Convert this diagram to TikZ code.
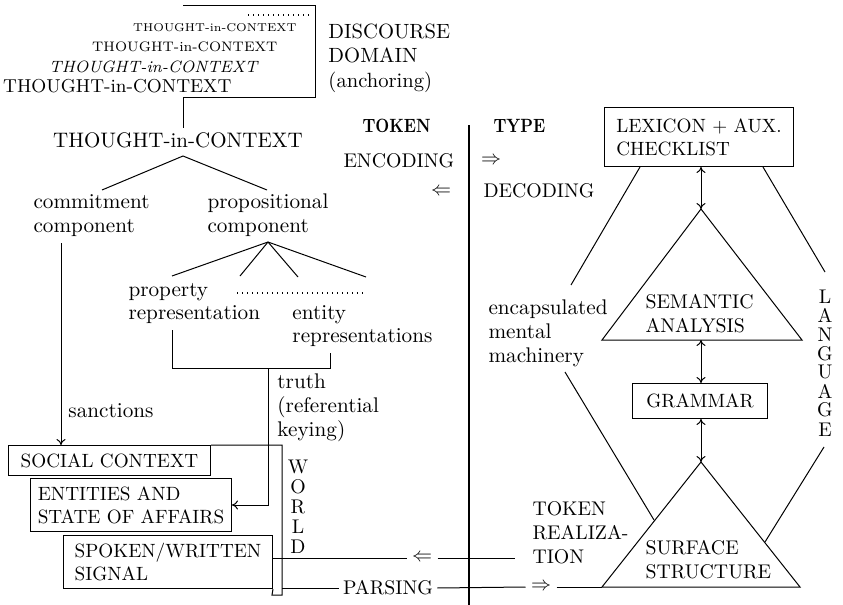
\documentclass[tikz,border=0pt]{standalone}
\usepackage{graphicx}
\usetikzlibrary{arrows.meta}

\tikzset{
  lbl/.style={align=left,font=\fontsize{10.6}{11.8}\selectfont},
  captxt/.style={align=left,font=\fontsize{9.9}{12}\selectfont},
  head/.style={font=\fontsize{9.6}{11}\selectfont\bfseries},
  box/.style={draw,align=left,font=\fontsize{9.6}{11.6}\selectfont,anchor=north west,inner sep=0pt},
  sym/.style={font=\fontsize{10}{12}\selectfont,inner xsep=2.5pt},
  tip/.style={-{To[length=3pt,width=4.5pt]}},
  dtip/.style={{To[length=3pt,width=4.5pt]}-{To[length=3pt,width=4.5pt]}},
}

\begin{document}
\begin{tikzpicture}[x=0.5pt,y=-0.5pt,line width=0.5pt,every node/.append style={inner sep=0pt}]
\useasboundingbox (0,0) rectangle (843,605);

% discourse domain
\node[font=\fontsize{5.7}{6}\selectfont,anchor=base east] (tic1) at (297,32) {THOUGHT-in-CONTEXT};
\node[font=\fontsize{6.9}{7}\selectfont,anchor=base east] (tic2) at (278,52) {THOUGHT-in-CONTEXT};
\node[font=\fontsize{8.2}{9}\selectfont\itshape,anchor=base east] (tic3) at (258,72) {THOUGHT-in-CONTEXT};
\node[font=\fontsize{9.35}{10}\selectfont,anchor=base east] (tic4) at (232,92) {THOUGHT-in-CONTEXT};
\draw[line width=0.9pt,dash pattern=on 0.7pt off 1.8pt] (248,15) -- (311,15);
\node[align=left,font=\fontsize{10.3}{12.2}\selectfont,anchor=base west] (domain) at (328,87) {DISCOURSE\\DOMAIN\\(anchoring)};

\coordinate (dTL) at (183,5);
\coordinate (dTR) at (315,5);
\coordinate (dBR) at (315,97);
\coordinate (dBL) at (183,97);
\coordinate (dEnd) at (183,128);
\draw (dTL) -- (dTR) -- (dBR) -- (dBL) -- (dEnd);

% thought tree
\node[font=\fontsize{10.5}{12}\selectfont,anchor=base] (thought) at (178,148) {THOUGHT-in-CONTEXT};
\node[lbl,anchor=base west] (commit) at (33,232) {commitment\\component};
\node[lbl,anchor=base west] (prop) at (207,232) {propositional\\component};
\coordinate (tA) at (183,156);
\coordinate (cTop) at (102,190);
\coordinate (pTop) at (267,190);
\draw (cTop) -- (tA) -- (pTop);

\node[lbl,anchor=base west] (property) at (128,320) {property\\representation};
\node[lbl,anchor=base west] (entity) at (292,343) {entity\\representations};
\coordinate (pA) at (268,242);
\coordinate (f1) at (172,276);
\coordinate (f2) at (240,276);
\coordinate (f3) at (298,277);
\coordinate (f4) at (366,277);
\foreach \f in {f1,f2,f3,f4}
  \draw (pA) -- (\f);
\draw[line width=0.9pt,dash pattern=on 0.7pt off 1.8pt] (237,293) -- (366,293);

% truth / sanctions
\coordinate (bL) at (172,330);
\coordinate (bR) at (330,353);
\coordinate (bM) at (268,368);
\draw (bL) -- (bL |- bM) -- (bR |- bM) -- (bR);
\node[lbl,anchor=base west] (truth) at (277,436) {truth\\(referential\\keying)};
\node[lbl,anchor=base west] (sanct) at (68,417) {sanctions};
\coordinate (cBot) at (61,243);

% world
\node[box,minimum width=101pt,minimum height=15pt] (social) at (8,445) {SOCIAL CONTEXT};
\node[box,minimum width=100.5pt,minimum height=26.5pt] (entities) at (30,478) {ENTITIES AND\\STATE OF AFFAIRS};
\node[box,minimum width=104.5pt,minimum height=26.5pt] (spoken) at (63,535) {SPOKEN/WRITTEN\\SIGNAL};
\draw[tip] (cBot) -- (cBot |- social.north);
\draw[tip] (bM) -- (bM |- entities.east) -- (entities.east);

\coordinate (wTR) at (282,445);
\coordinate (wBR) at (282,595);
\coordinate (wBL) at (272,595);
\draw (social.north east) -- (wTR) -- (wBR) -- (wBL) -- (spoken.south east);
\node[align=center,font=\fontsize{9.9}{10}\selectfont,anchor=base] (world) at (298,553) {W\\O\\R\\L\\D};

% token / type
\coordinate (divTop) at (469,125);
\coordinate (divBot) at (469,605);
\draw[line width=1.1pt] (divTop) -- (divBot);
\node[head,anchor=base west] (token) at (362,133) {\scalebox{0.84}[1]{TOKEN}};
\node[head,anchor=base west] (type) at (493,133) {\scalebox{0.84}[1]{TYPE}};
\node[captxt,anchor=base west] (encoding) at (343,168) {ENCODING};
\node[sym] (encArr) at (491,161) {$\Rightarrow$};
\node[captxt,anchor=base west] (decoding) at (483,198) {DECODING};
\node[sym] (decArr) at (441,192) {$\Leftarrow$};

% language
\node[box,minimum width=94.5pt,minimum height=29.5pt] (lex) at (604,107) {LEXICON + AUX.\\CHECKLIST};
\coordinate (semA) at (701,209);
\coordinate (semL) at (602,340);
\coordinate (semR) at (802,340);
\draw (semA) -- (semL) -- (semR) -- cycle;
\node[captxt,anchor=base west] (sem) at (645,332) {SEMANTIC\\ANALYSIS};
\node[box,align=center,minimum width=67.5pt,minimum height=17.5pt] (gram) at (632,383) {GRAMMAR};
\coordinate (surfA) at (701,462);
\coordinate (surfL) at (602,587);
\coordinate (surfR) at (800,587);
\draw (surfA) -- (surfL) -- (surfR) -- cycle;
\node[captxt,anchor=base west] (surf) at (645,578) {SURFACE\\STRUCTURE};

\draw[dtip] (semA |- lex.south) -- (semA);
\draw[dtip] (semA |- semL) -- (semA |- gram.north);
\draw[dtip] (semA |- gram.south) -- (surfA);

\node[lbl,anchor=base west] (encaps) at (488,362) {encapsulated\\mental\\machinery};
\coordinate (eTop) at (571,285);
\coordinate (eBot) at (565,372);
\coordinate (eEnd) at (654,520);
\draw ([xshift=18pt]lex.south west) -- (eTop);
\draw (eBot) -- (eEnd);
\node[align=center,font=\fontsize{9.9}{9.5}\selectfont,anchor=base] (lang) at (825,436) {L\\A\\N\\G\\U\\A\\G\\E};
\coordinate (lTop) at (825,272);
\coordinate (lBot) at (824,447);
\coordinate (lEnd) at (765,542);
\draw ([xshift=-15.5pt]lex.south east) -- (lTop);
\draw (lBot) -- (lEnd);

% realization and parsing
\node[captxt,anchor=base west] (tokreal) at (532,563) {TOKEN\\REALIZA-\\TION};
\node[sym] (realArr) at (422,558) {$\Leftarrow$};
\coordinate (realEnd) at (515,558);
\draw (realArr -| spoken.east) -- (realArr.west);
\draw (realArr.east) -- (realEnd);
\node[captxt,inner xsep=2pt] (parsing) at (388,588) {PARSING};
\node[sym] (parseArr) at (541,587) {$\Rightarrow$};
\draw (wBR |- parsing) -- (parsing.west);
\draw (parsing.east) -- (parseArr.west);
\draw (parseArr.east) -- (surfL);
\end{tikzpicture}
\end{document}
